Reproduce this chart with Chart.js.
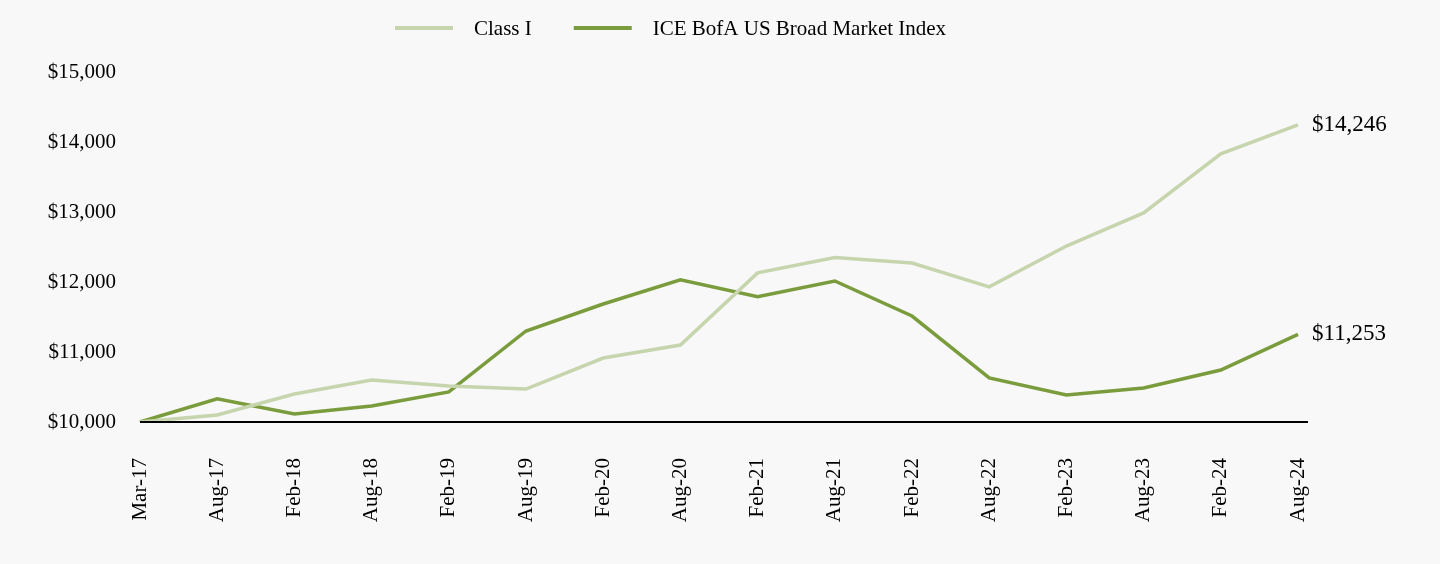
<!DOCTYPE html>
<html>
<head>
<meta charset="utf-8">
<script src="https://cdn.jsdelivr.net/npm/chart.js@4.4.1/dist/chart.umd.min.js"></script>
<style>
  html, body { margin: 0; padding: 0; background: #f8f8f8; }
  #wrap { width: 1440px; height: 564px; position: relative; }
</style>
</head>
<body>
<div id="wrap"><canvas id="c" width="1440" height="564"></canvas></div>
<script>
const categories = ["Mar-17","Aug-17","Feb-18","Aug-18","Feb-19","Aug-19","Feb-20","Aug-20","Feb-21","Aug-21","Feb-22","Aug-22","Feb-23","Aug-23","Feb-24","Aug-24"];
const classI = [10000,10100,10400,10600,10514,10470,10914,11100,12130,12350,12270,11930,12514,12986,13830,14246];
const indexSeries = [10000,10330,10114,10230,10430,11300,11686,12030,11790,12014,11514,10630,10386,10486,10743,11253];
const yTicks = [10000,11000,12000,13000,14000,15000];
const seriesNames = ["Class I","ICE BofA US Broad Market Index"];
const seriesColors = ["#c6d5ae","#7a9c3c"];

const FONT = "'Liberation Serif', 'Times New Roman', serif";

const fmt = v => "$" + v.toLocaleString("en-US");

const endLabels = {
  id: "endLabels",
  afterDatasetsDraw(chart) {
    const ctx = chart.ctx;
    ctx.save();
    ctx.font = "23px " + FONT;
    ctx.fillStyle = "#000";
    ctx.textAlign = "left";
    ctx.textBaseline = "middle";
    chart.data.datasets.forEach((ds, i) => {
      const meta = chart.getDatasetMeta(i);
      const last = meta.data[meta.data.length - 1];
      ctx.fillText(fmt(ds.data[ds.data.length - 1]), last.x + 14, last.y);
    });
    ctx.restore();
  }
};

const axisLine = {
  id: "axisLine",
  afterDatasetsDraw(chart) {
    const ctx = chart.ctx;
    const y = chart.scales.y.getPixelForValue(yTicks[0]);
    ctx.save();
    ctx.strokeStyle = "#000";
    ctx.lineWidth = 2;
    ctx.beginPath();
    ctx.moveTo(chart.chartArea.left, y);
    ctx.lineTo(chart.chartArea.right + 10, y);
    ctx.stroke();
    ctx.restore();
  }
};

const customLegend = {
  id: "customLegend",
  afterDraw(chart) {
    const ctx = chart.ctx;
    ctx.save();
    ctx.font = "21px " + FONT;
    ctx.textBaseline = "middle";
    ctx.textAlign = "left";
    let x = 395;
    const y = 28;
    chart.data.datasets.forEach((ds, i) => {
      ctx.strokeStyle = ds.borderColor;
      ctx.lineWidth = 4;
      ctx.beginPath();
      ctx.moveTo(x, y);
      ctx.lineTo(x + 58, y);
      ctx.stroke();
      ctx.fillStyle = "#000";
      ctx.fillText(ds.label, x + 79, y + 1);
      x += 79 + ctx.measureText(ds.label).width + 42;
    });
    ctx.restore();
  }
};

new Chart(document.getElementById("c"), {
  type: "line",
  data: {
    labels: categories,
    datasets: [
      { label: seriesNames[0], data: classI, borderColor: seriesColors[0], backgroundColor: seriesColors[0], borderWidth: 3.5, pointRadius: 0, tension: 0, fill: false },
      { label: seriesNames[1], data: indexSeries, borderColor: seriesColors[1], backgroundColor: seriesColors[1], borderWidth: 3.5, pointRadius: 0, tension: 0, fill: false }
    ]
  },
  options: {
    responsive: false,
    animation: false,
    devicePixelRatio: 1,
    layout: { padding: { top: 72, right: 142, bottom: 0, left: 0 } },
    plugins: {
      legend: { display: false },
      tooltip: { enabled: false }
    },
    scales: {
      x: {
        grid: { display: false, drawTicks: false },
        border: { display: false },
        ticks: {
          color: "#000",
          font: { family: FONT, size: 21 },
          minRotation: 90,
          maxRotation: 90,
          autoSkip: false,
          padding: 36
        },
        afterFit(scale) { scale.height = 142; }
      },
      y: {
        min: yTicks[0],
        max: yTicks[yTicks.length - 1],
        grid: { display: false, drawTicks: false },
        border: { display: false },
        afterBuildTicks(scale) { scale.ticks = yTicks.map(v => ({ value: v })); },
        ticks: {
          color: "#000",
          font: { family: FONT, size: 21 },
          padding: 24,
          callback: v => fmt(v)
        },
        afterFit(scale) { scale.width = 140; }
      }
    }
  },
  plugins: [axisLine, endLabels, customLegend]
});
</script>
</body>
</html>
